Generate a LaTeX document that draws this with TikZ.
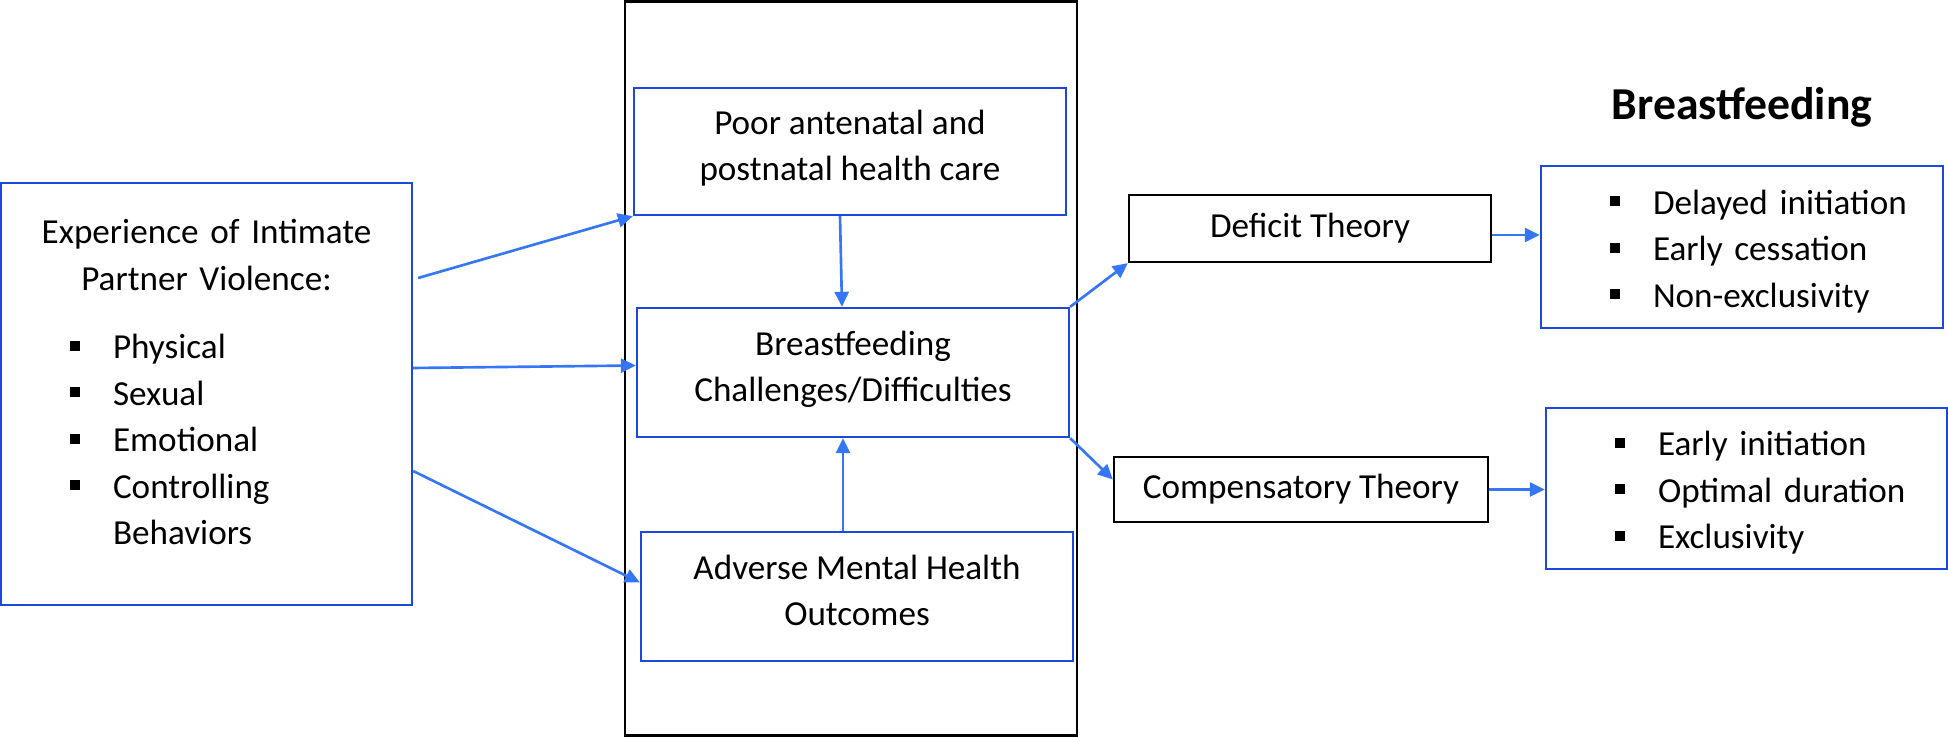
\documentclass[tikz,border=0pt]{standalone}
\usepackage{fontspec}
\setmainfont{Carlito}
\usepackage{tikz}
\usetikzlibrary{positioning,arrows.meta}

\definecolor{boxblue}{RGB}{28,72,222}
\definecolor{arrowblue}{RGB}{52,118,246}

\setlength{\parindent}{0pt}
\newcommand{\boxfont}{\fontsize{10}{13.2}\selectfont}
\newcommand{\sqitem}[1]{\hspace*{0.69cm}\rule[0.08cm]{0.1cm}{0.1cm}\hspace*{0.33cm}#1}
\newcommand{\lowstrut}{\rule[-0.12cm]{0pt}{0pt}}
\newcommand{\highstrut}{\rule{0pt}{0.33cm}}

\begin{document}
\begin{tikzpicture}[
        bluebox/.style={
            rectangle,
            draw=boxblue,
            line width=0.65pt,
            align=center,
            font=\boxfont
        },
        listbox/.style={
            bluebox,
            align=left,
            inner sep=0pt
        },
        theorybox/.style={
            rectangle,
            draw=black,
            line width=0.65pt,
            align=center,
            font=\boxfont
        },
        titletext/.style={
            font=\fontsize{13}{15}\selectfont\bfseries
        },
        arrow/.style={
            -{Triangle[length=1.5mm,width=1.4mm]},
            draw=arrowblue,
            line width=0.75pt
        }
    ]
    \useasboundingbox (0,0) rectangle (19.48,-7.37);

    % Frame round the pathways
    \node[draw, line width=0.75pt, minimum width=4.52cm, minimum height=7.34cm] (frame) at (8.51,-3.685) {};

    % Exposure
    \node[listbox, text width=4.11cm, minimum height=4.22cm] (ipv) at (2.065,-3.94) {%
        \makebox[4.11cm]{Experience of Intimate}\\
        \makebox[4.11cm]{Partner Violence:}\\[0.225cm]
        \sqitem{Physical}\\
        \sqitem{Sexual}\\
        \sqitem{Emotional}\\
        \sqitem{Controlling}\\
        \hspace*{1.12cm}Behaviors\rule[-0.24cm]{0pt}{0pt}};

    % Pathways
    \node[bluebox, minimum width=4.32cm, minimum height=1.27cm] (care) at (8.50,-1.515) {Poor antenatal and\\postnatal health care\lowstrut};
    \node[bluebox, minimum width=4.32cm, minimum height=1.29cm] (bfc) at (8.53,-3.725) {Breastfeeding\\Challenges/Difficulties\lowstrut};
    \node[bluebox, minimum width=4.32cm, minimum height=1.29cm] (mental) at (8.57,-5.965) {Adverse Mental Health\\Outcomes\lowstrut};

    % Theories
    \node[theorybox, minimum width=3.62cm, minimum height=0.67cm] (deficit) at (13.10,-2.285) {Deficit Theory};
    \node[theorybox, minimum width=3.74cm, minimum height=0.65cm] (comp) at (13.01,-4.895) {Compensatory Theory};

    % Breastfeeding outcomes
    \node[listbox, text width=4.02cm, minimum height=1.62cm] (negbox) at (17.42,-2.47) {%
        \sqitem{\highstrut Delayed initiation}\\
        \sqitem{Early cessation}\\
        \sqitem{Non-exclusivity}};
    \node[listbox, text width=4.01cm, minimum height=1.61cm] (posbox) at (17.465,-4.885) {%
        \sqitem{\highstrut Early initiation}\\
        \sqitem{Optimal duration}\\
        \sqitem{Exclusivity}};
    \node[titletext, above=0.25cm of negbox] (title) {Breastfeeding};

    % Connections
    \draw[arrow] ([xshift=0.05cm,yshift=1.16cm]ipv.east) -- (care.south west);
    \draw[arrow] ([yshift=0.26cm]ipv.east) -- ([yshift=0.07cm]bfc.west);
    \draw[arrow] ([yshift=-0.77cm]ipv.east) -- ([yshift=0.14cm]mental.west);
    \draw[arrow] ([xshift=-0.10cm]care.south) -- ([xshift=-0.11cm]bfc.north);
    \draw[arrow] ([xshift=-0.14cm]mental.north) -- ([xshift=-0.14cm]mental.north |- bfc.south);
    \draw[arrow] (bfc.north east) -- (deficit.south west);
    \draw[arrow] (bfc.south east) -- ([yshift=0.1cm]comp.west);
    \draw[arrow] ([yshift=-0.065cm]deficit.east) -- ([yshift=-0.065cm]deficit.east -| negbox.west);
    \draw[arrow] (comp.east) -- (comp.east -| posbox.west);

\end{tikzpicture}
\end{document}
